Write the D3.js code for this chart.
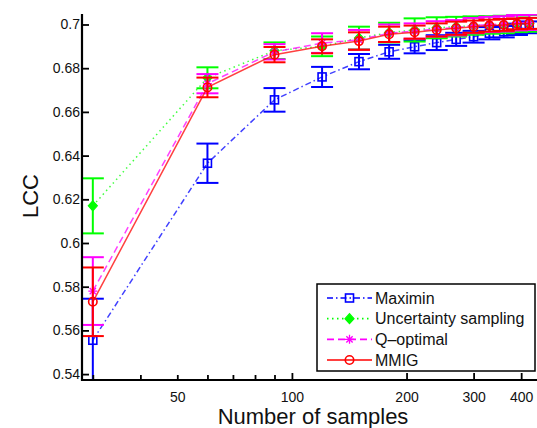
<!DOCTYPE html>
<html><head><meta charset="utf-8">
<script src="https://cdn.jsdelivr.net/npm/d3@7"></script>
<style>
html,body{margin:0;padding:0;background:#fff;}
svg{display:block;font-family:"Liberation Sans",Arial,Helvetica,sans-serif;}
</style></head>
<body>
<svg id="chart" width="537" height="428"></svg>
<script>
const samples = [30,60,90,120,150,180,210,240,270,300,330,360,390,420];
const maximin = [0.5555,0.6365,0.6655,0.676,0.683,0.6875,0.6898,0.6917,0.6932,0.6944,0.696,0.6967,0.6978,0.6987];
const maximinErr = [0.019,0.009,0.0054,0.0046,0.0035,0.0032,0.003,0.0034,0.003,0.0027,0.0028,0.0026,0.0026,0.0027];
const uncertainty = [0.617,0.6756,0.688,0.690,0.6938,0.6963,0.6975,0.6985,0.699,0.6995,0.6998,0.700,0.7003,0.7005];
const uncertaintyErr = [0.0126,0.0048,0.0038,0.0045,0.0052,0.0045,0.0053,0.0048,0.0045,0.0042,0.004,0.004,0.0038,0.0038];
const qoptimal = [0.578,0.6729,0.6875,0.6915,0.693,0.696,0.697,0.698,0.6985,0.6995,0.700,0.7003,0.7008,0.701];
const qoptimalErr = [0.0155,0.0044,0.0035,0.0045,0.0045,0.004,0.0035,0.0035,0.0035,0.0035,0.0035,0.0035,0.0035,0.0035];
const mmig = [0.5731,0.6712,0.6862,0.690,0.6924,0.6955,0.6965,0.6975,0.6983,0.699,0.6995,0.6998,0.7003,0.7005];
const mmigErr = [0.0157,0.0045,0.0035,0.0032,0.004,0.0035,0.003,0.003,0.003,0.0028,0.0027,0.0027,0.0025,0.0025];
const seriesNames = ["Maximin","Uncertainty sampling","Q\u2013optimal","MMIG"];
const yTicks = [0.54,0.56,0.58,0.6,0.62,0.64,0.66,0.68,0.7];
const yTickLabels = ["0.54","0.56","0.58","0.6","0.62","0.64","0.66","0.68","0.7"];
const xLabelTicks = [50,100,200,300,400];
const xMinorTicks = [30,40,50,60,70,80,90,100,200,300,400];
const xTitle = "Number of samples";
const yTitle = "LCC";

const series = [
  {name:seriesNames[0], vals:maximin, err:maximinErr, color:"#0000ff", dash:"6,3,1.5,3", marker:"square"},
  {name:seriesNames[1], vals:uncertainty, err:uncertaintyErr, color:"#00ff00", dash:"1.5,3.5", marker:"diamond"},
  {name:seriesNames[2], vals:qoptimal, err:qoptimalErr, color:"#ff00ff", dash:"7,4", marker:"asterisk"},
  {name:seriesNames[3], vals:mmig, err:mmigErr, color:"#ff0000", dash:null, marker:"circle"}
];

const L = 82, R = 545, T = 14, B = 380;
const x = d3.scaleLog().domain([28.1, 462]).range([L, R]);
const y = d3.scaleLinear().domain([0.5373, 0.7048]).range([B, T]);

const svg = d3.select("#chart");
svg.append("defs").append("clipPath").attr("id","clip")
  .append("rect").attr("x",L).attr("y",T).attr("width",R-L).attr("height",B-T);

const plot = svg.append("g").attr("clip-path","url(#clip)");

function drawMarker(g, type, cx, cy, color){
  if(type==="square"){
    g.append("rect").attr("x",cx-4).attr("y",cy-4).attr("width",8).attr("height",8)
      .attr("fill","none").attr("stroke",color).attr("stroke-width",1.6);
  } else if(type==="diamond"){
    g.append("path").attr("d",`M${cx},${cy-5}L${cx+4.5},${cy}L${cx},${cy+5}L${cx-4.5},${cy}Z`)
      .attr("fill",color).attr("stroke",color).attr("stroke-width",1.2);
  } else if(type==="asterisk"){
    const r=4.5;
    const p = d3.path();
    p.moveTo(cx-r,cy); p.lineTo(cx+r,cy);
    p.moveTo(cx,cy-r); p.lineTo(cx,cy+r);
    p.moveTo(cx-r*0.7,cy-r*0.7); p.lineTo(cx+r*0.7,cy+r*0.7);
    p.moveTo(cx-r*0.7,cy+r*0.7); p.lineTo(cx+r*0.7,cy-r*0.7);
    g.append("path").attr("d",p.toString()).attr("stroke",color).attr("stroke-width",1.3).attr("fill","none");
  } else if(type==="circle"){
    g.append("circle").attr("cx",cx).attr("cy",cy).attr("r",4.2)
      .attr("fill","none").attr("stroke",color).attr("stroke-width",1.6);
  }
}

const line = d3.line().x((d,i)=>x(samples[i])).y(d=>y(d));
const cap = 11;
series.forEach(s=>{
  const g = plot.append("g");
  g.append("path").datum(s.vals).attr("d",line).attr("fill","none")
    .attr("stroke",s.color).attr("stroke-width",1.5).attr("stroke-opacity",0.75)
    .attr("stroke-dasharray",s.dash);
  s.vals.forEach((v,i)=>{
    const cx = x(samples[i]), y1 = y(v+s.err[i]), y2 = y(v-s.err[i]);
    g.append("line").attr("x1",cx).attr("x2",cx).attr("y1",y1).attr("y2",y2)
      .attr("stroke",s.color).attr("stroke-width",2);
    g.append("line").attr("x1",cx-cap).attr("x2",cx+cap).attr("y1",y1).attr("y2",y1)
      .attr("stroke",s.color).attr("stroke-width",2);
    g.append("line").attr("x1",cx-cap).attr("x2",cx+cap).attr("y1",y2).attr("y2",y2)
      .attr("stroke",s.color).attr("stroke-width",2);
    drawMarker(g, s.marker, cx, y(v), s.color);
  });
});

// Axes
const yAxis = d3.axisLeft(y).tickValues(yTicks).tickSize(-7).tickPadding(10)
  .tickFormat((d,i)=>yTickLabels[i]);
const ya = svg.append("g").attr("transform",`translate(${L},0)`).call(yAxis);
ya.select(".domain").remove();
ya.selectAll(".tick line").attr("stroke","#000").attr("stroke-width",1.8);
ya.selectAll(".tick text").attr("font-size",14).attr("fill","#111").attr("font-family","Liberation Sans, Arial, sans-serif").attr("dx",8);

const xAxis = d3.axisBottom(x).tickValues(xMinorTicks).tickSize(-6).tickPadding(12)
  .tickFormat(d=> xLabelTicks.includes(d) ? String(d) : "");
const xa = svg.append("g").attr("transform",`translate(0,${B})`).call(xAxis);
xa.select(".domain").remove();
xa.selectAll(".tick line").attr("stroke","#000").attr("stroke-width",1.8)
  .attr("y2",d=> xLabelTicks.includes(d) && d>=100 ? -7 : -5);
xa.selectAll(".tick text").attr("font-size",14).attr("fill","#111").attr("font-family","Liberation Sans, Arial, sans-serif");

svg.append("line").attr("x1",L).attr("x2",L).attr("y1",T).attr("y2",B+1)
  .attr("stroke","#000").attr("stroke-width",2.2);
svg.append("line").attr("x1",L-1).attr("x2",540).attr("y1",B).attr("y2",B)
  .attr("stroke","#000").attr("stroke-width",2.2);

svg.append("text").attr("x",313).attr("y",424).attr("text-anchor","middle")
  .attr("font-size",22).attr("fill","#111").text(xTitle);
svg.append("text").attr("transform","translate(38,196) rotate(-90)").attr("text-anchor","middle")
  .attr("font-size",22).attr("fill","#111").text(yTitle);

// Legend
const lg = svg.append("g");
lg.append("rect").attr("x",317).attr("y",284).attr("width",218).attr("height",87)
  .attr("fill","#fff").attr("stroke","#000").attr("stroke-width",1.5);
const ly = d3.scalePoint().domain(seriesNames).range([298,360]);
series.forEach(s=>{
  const yy = ly(s.name);
  lg.append("line").attr("x1",327).attr("x2",372).attr("y1",yy).attr("y2",yy)
    .attr("stroke",s.color).attr("stroke-width",1.6).attr("stroke-dasharray",s.dash);
  drawMarker(lg, s.marker, 349.5, yy, s.color);
  lg.append("text").attr("x",375).attr("y",yy+5.5).attr("font-size",16).attr("fill","#111").text(s.name);
});
</script>
</body></html>
